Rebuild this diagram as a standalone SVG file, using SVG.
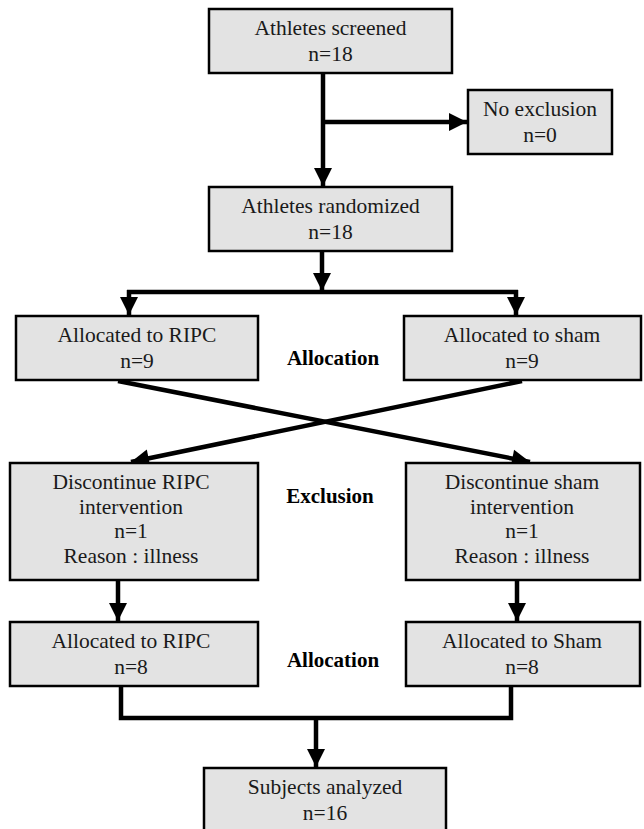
<svg xmlns="http://www.w3.org/2000/svg" width="644" height="829" viewBox="0 0 644 829">
<style>
.box{fill:#e3e3e3;stroke:#000;stroke-width:2.5}
.t{font-family:'Liberation Serif',serif;font-size:21.5px;fill:#1a1a1a;text-anchor:middle}
.b{font-family:'Liberation Serif',serif;font-size:21px;font-weight:bold;fill:#000;text-anchor:middle}
.ln{fill:none;stroke:#000;stroke-width:4.5}
</style>
<defs>
<marker id="ah" markerUnits="userSpaceOnUse" markerWidth="22" markerHeight="22" viewBox="0 0 22 22" refX="20" refY="11" orient="auto">
<path d="M2,2 L20,11 L2,20 Z" fill="#000"/>
</marker>
</defs>
<rect width="644" height="829" fill="#fff"/>
<g id="connectors">
<path class="ln" d="M323,73 V186" marker-end="url(#ah)"/>
<path class="ln" d="M323,122 H467" marker-end="url(#ah)"/>
<path class="ln" d="M322,251 V291" marker-end="url(#ah)"/>
<path class="ln" d="M127,292 H518"/>
<path class="ln" d="M129,290 V315" marker-end="url(#ah)"/>
<path class="ln" d="M516,290 V315" marker-end="url(#ah)"/>
<path class="ln" d="M118,381 L530,462" marker-end="url(#ah)"/>
<path class="ln" d="M522,381 L131,462" marker-end="url(#ah)"/>
<path class="ln" d="M118,580 V621" marker-end="url(#ah)"/>
<path class="ln" d="M517,580 V621" marker-end="url(#ah)"/>
<path class="ln" d="M121,686 V718 H511 V686"/>
<path class="ln" d="M316,718 V767" marker-end="url(#ah)"/>
</g>
<g id="screened">
<rect class="box" x="209" y="9" width="243" height="64"/>
<text class="t" x="330.5" y="35">Athletes screened</text>
<text class="t" x="330.5" y="61">n=18</text>
</g>
<g id="noexclusion">
<rect class="box" x="468" y="90" width="144" height="64"/>
<text class="t" x="540" y="116">No exclusion</text>
<text class="t" x="540" y="142">n=0</text>
</g>
<g id="randomized">
<rect class="box" x="209" y="187" width="243" height="64"/>
<text class="t" x="330.5" y="213">Athletes randomized</text>
<text class="t" x="330.5" y="239">n=18</text>
</g>
<g id="alloc-ripc">
<rect class="box" x="16" y="316" width="242" height="64"/>
<text class="t" x="137" y="342">Allocated to RIPC</text>
<text class="t" x="137" y="368">n=9</text>
</g>
<g id="alloc-sham">
<rect class="box" x="404" y="316" width="237" height="64"/>
<text class="t" x="522" y="342">Allocated to sham</text>
<text class="t" x="522" y="368">n=9</text>
</g>
<g id="label-allocation-1"><text class="b" x="333" y="365">Allocation</text></g>
<g id="disc-ripc">
<rect class="box" x="10" y="463" width="248" height="117"/>
<text class="t" x="131" y="489">Discontinue RIPC</text>
<text class="t" x="131" y="514">intervention</text>
<text class="t" x="131" y="538">n=1</text>
<text class="t" x="131" y="563">Reason : illness</text>
</g>
<g id="disc-sham">
<rect class="box" x="406" y="463" width="234" height="117"/>
<text class="t" x="522" y="489">Discontinue sham</text>
<text class="t" x="522" y="514">intervention</text>
<text class="t" x="522" y="538">n=1</text>
<text class="t" x="522" y="563">Reason : illness</text>
</g>
<g id="label-exclusion"><text class="b" x="330" y="503">Exclusion</text></g>
<g id="alloc-ripc-2">
<rect class="box" x="10" y="622" width="248" height="64"/>
<text class="t" x="131" y="648">Allocated to RIPC</text>
<text class="t" x="131" y="674">n=8</text>
</g>
<g id="alloc-sham-2">
<rect class="box" x="406" y="622" width="234" height="64"/>
<text class="t" x="522" y="648">Allocated to Sham</text>
<text class="t" x="522" y="674">n=8</text>
</g>
<g id="label-allocation-2"><text class="b" x="333" y="667">Allocation</text></g>
<g id="analyzed">
<rect class="box" x="204" y="768" width="242" height="64"/>
<text class="t" x="325" y="794">Subjects analyzed</text>
<text class="t" x="325" y="820">n=16</text>
</g>
</svg>
